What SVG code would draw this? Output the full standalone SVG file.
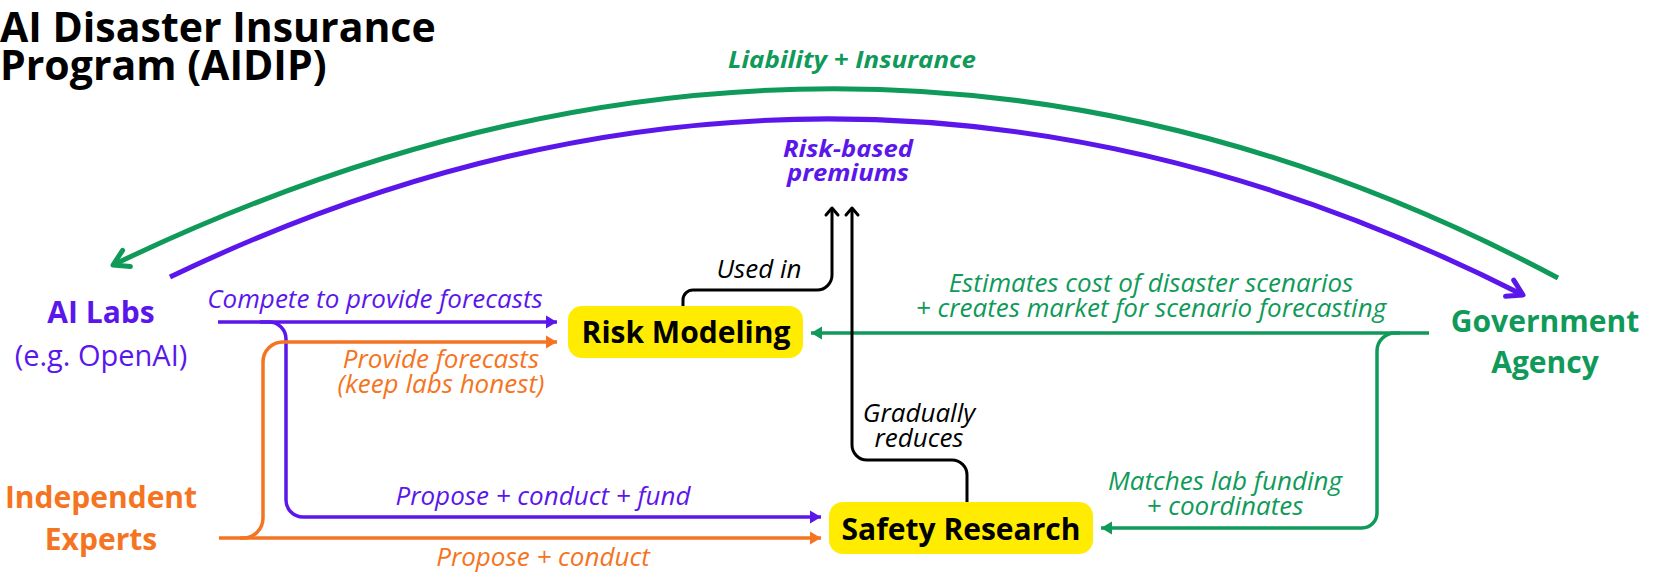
<svg xmlns="http://www.w3.org/2000/svg" width="1661" height="576" viewBox="0 0 1661 576">
<style>
text{font-family:"Open Sans","Noto Sans","DejaVu Sans",sans-serif}
.title{font-size:41px;font-weight:700;fill:#000}
.actor{font-size:30px;font-weight:700;text-anchor:middle}
.sub{font-size:29px;font-weight:400;text-anchor:middle}
.node{font-size:30px;font-weight:700;fill:#000;text-anchor:middle}
.lbl{font-size:26px;font-style:italic;text-anchor:middle}
.blbl{font-size:24px;font-style:italic;font-weight:700;text-anchor:middle}
.pur{fill:#5b17eb}.grn{fill:#0f9a5a}.org{fill:#f57422}.blk{fill:#000}
.box{fill:#ffec00}
.c{fill:none;stroke-linecap:butt;stroke-linejoin:round}
.arc{stroke-width:5;stroke-linecap:butt}
.hl{stroke-width:3.5}
.bl{stroke-width:3;stroke:#000}
</style>
<defs>
<marker id="chevP" markerUnits="userSpaceOnUse" orient="auto" refX="0" refY="0" markerWidth="40" markerHeight="40" viewBox="-20 -20 40 40" overflow="visible"><path d="M-15,-9 L0,0 L-15,9" fill="none" stroke="#5b17eb" stroke-width="5" stroke-linecap="round" stroke-linejoin="round"/></marker>
<marker id="chevG" markerUnits="userSpaceOnUse" orient="auto" refX="0" refY="0" markerWidth="40" markerHeight="40" viewBox="-20 -20 40 40" overflow="visible"><path d="M-15,-9 L0,0 L-15,9" fill="none" stroke="#0f9a5a" stroke-width="5" stroke-linecap="round" stroke-linejoin="round"/></marker>
<marker id="chevK" markerUnits="userSpaceOnUse" orient="auto" refX="0" refY="0" markerWidth="20" markerHeight="20" viewBox="-10 -10 20 20" overflow="visible"><path d="M-7,-6 L0,0 L-7,6" fill="none" stroke="#000" stroke-width="3" stroke-linecap="round" stroke-linejoin="round"/></marker>
<marker id="triP" markerUnits="userSpaceOnUse" orient="auto" refX="0" refY="0" markerWidth="20" markerHeight="20" viewBox="-15 -10 20 20" overflow="visible"><path d="M-11,-6.5 L0,0 L-11,6.5 Z" fill="#5b17eb"/></marker>
<marker id="triO" markerUnits="userSpaceOnUse" orient="auto" refX="0" refY="0" markerWidth="20" markerHeight="20" viewBox="-15 -10 20 20" overflow="visible"><path d="M-11,-6.5 L0,0 L-11,6.5 Z" fill="#f57422"/></marker>
<marker id="triG" markerUnits="userSpaceOnUse" orient="auto" refX="0" refY="0" markerWidth="20" markerHeight="20" viewBox="-15 -10 20 20" overflow="visible"><path d="M-11,-6.5 L0,0 L-11,6.5 Z" fill="#0f9a5a"/></marker>
</defs>

<g id="title">
<text class="title" x="0" y="42">AI Disaster Insurance</text>
<text class="title" x="0" y="80">Program (AIDIP)</text>
</g>

<g id="connectors">
<path class="c arc" stroke="#0f9a5a" d="M1558,278 Q858,-94 113,265" marker-end="url(#chevG)"/>
<path class="c arc" stroke="#5b17eb" d="M170,277 Q847,-48 1523,295" marker-end="url(#chevP)"/>
<path class="c hl" stroke="#5b17eb" d="M218,322 H557" marker-end="url(#triP)"/>
<path class="c hl" stroke="#5b17eb" d="M260,322 H269 A17,17 0 0 1 286,339 V500 A17,17 0 0 0 303,517 H821" marker-end="url(#triP)"/>
<path class="c hl" stroke="#f57422" d="M219,538 H821" marker-end="url(#triO)"/>
<path class="c hl" stroke="#f57422" d="M240,538 H243 A20,20 0 0 0 263,518 V362 A20,20 0 0 1 283,342 H557" marker-end="url(#triO)"/>
<path class="c hl" stroke="#0f9a5a" d="M1429,333 H811" marker-end="url(#triG)"/>
<path class="c hl" stroke="#0f9a5a" d="M1400,333 H1395 A18,18 0 0 0 1377,351 V513 A15,15 0 0 1 1362,528 H1101" marker-end="url(#triG)"/>
<path class="c bl" d="M683,306 V300 A10,10 0 0 1 693,290 H817 A15,15 0 0 0 832,275 V208" marker-end="url(#chevK)"/>
<path class="c bl" d="M967,502 V475 A15,15 0 0 0 952,460 H867 A15,15 0 0 1 852,445 V208" marker-end="url(#chevK)"/>
</g>

<g id="edge-labels">
<text class="blbl grn" x="852" y="68" textLength="248" lengthAdjust="spacingAndGlyphs">Liability + Insurance</text>
<text class="blbl pur" x="848" y="157" textLength="130" lengthAdjust="spacingAndGlyphs">Risk-based</text>
<text class="blbl pur" x="848" y="181" textLength="122" lengthAdjust="spacingAndGlyphs">premiums</text>
<text class="lbl blk" x="759" y="278">Used in</text>
<text class="lbl pur" x="375" y="308">Compete to provide forecasts</text>
<text class="lbl org" x="441" y="368">Provide forecasts</text>
<text class="lbl org" x="441" y="393">(keep labs honest)</text>
<text class="lbl grn" x="1151" y="292">Estimates cost of disaster scenarios</text>
<text class="lbl grn" x="1151" y="317">+ creates market for scenario forecasting</text>
<text class="lbl blk" x="919" y="422">Gradually</text>
<text class="lbl blk" x="919" y="447">reduces</text>
<text class="lbl grn" x="1225" y="490">Matches lab funding</text>
<text class="lbl grn" x="1225" y="515">+ coordinates</text>
<text class="lbl pur" x="543" y="505">Propose + conduct + fund</text>
<text class="lbl org" x="543" y="566">Propose + conduct</text>
</g>

<g id="ai-labs">
<text class="actor pur" x="101" y="323">AI Labs</text>
<text class="sub pur" x="101" y="366">(e.g. OpenAI)</text>
</g>

<g id="independent-experts">
<text class="actor org" x="101" y="508">Independent</text>
<text class="actor org" x="101" y="550">Experts</text>
</g>

<g id="government-agency">
<text class="actor grn" x="1545" y="332">Government</text>
<text class="actor grn" x="1545" y="373">Agency</text>
</g>

<g id="risk-modeling">
<rect class="box" x="568" y="306" width="235" height="52" rx="14"/>
<text class="node" x="686" y="343">Risk Modeling</text>
</g>

<g id="safety-research">
<rect class="box" x="829" y="502" width="264" height="52" rx="14"/>
<text class="node" x="961" y="540">Safety Research</text>
</g>
</svg>
